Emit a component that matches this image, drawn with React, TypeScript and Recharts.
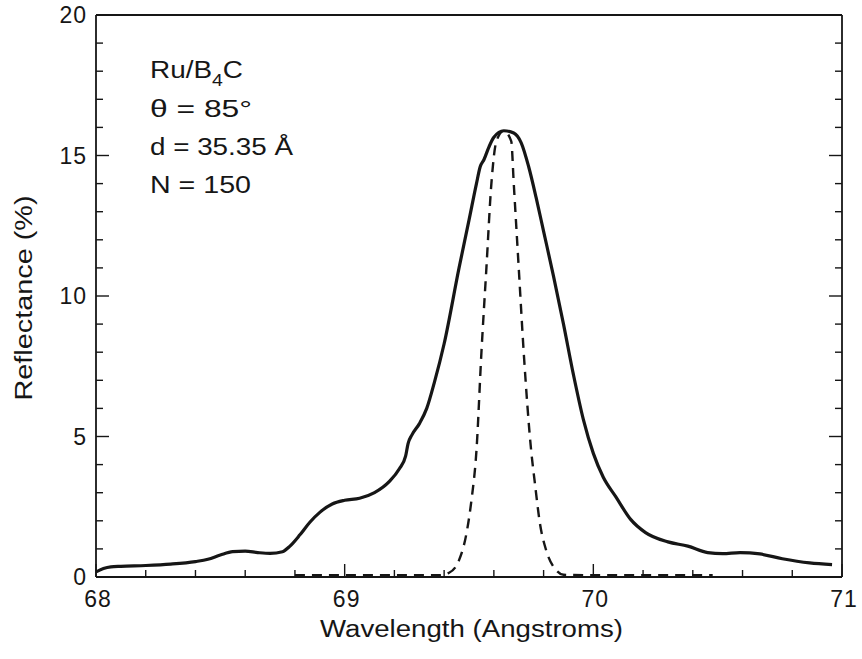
import { LineChart, Line, XAxis, YAxis, Customized } from "recharts"

// Measured reflectance curve (solid)
const measuredWavelength = [
    68.0, 68.03, 68.06, 68.1, 68.2, 68.3, 68.4, 68.45, 68.5, 68.55, 68.6, 68.65, 68.7, 68.75,
    68.78, 68.82, 68.86, 68.9, 68.95, 69.0, 69.06, 69.12, 69.18, 69.22, 69.245, 69.255, 69.27,
    69.3, 69.33, 69.36, 69.4, 69.46, 69.5, 69.53, 69.545, 69.56, 69.58, 69.6, 69.64, 69.68,
    69.71, 69.74, 69.77, 69.8, 69.84, 69.88, 69.92, 69.96, 70.0, 70.04, 70.09, 70.15,
    70.21, 70.3, 70.38, 70.46, 70.52, 70.59, 70.67, 70.76, 70.87, 70.96,
]
const measuredReflectance = [
    0.18, 0.3, 0.36, 0.38, 0.41, 0.46, 0.55, 0.63, 0.78, 0.9, 0.92, 0.87, 0.84, 0.9,
    1.1, 1.5, 1.95, 2.3, 2.6, 2.73, 2.8, 3.0, 3.4, 3.85, 4.3, 4.75, 5.05,
    5.45, 6.0, 6.9, 8.3, 11.0, 12.7, 14.0, 14.6, 14.85, 15.3, 15.65, 15.88, 15.8,
    15.45, 14.6, 13.5, 12.3, 10.7, 9.0, 7.2, 5.6, 4.4, 3.55, 2.86, 2.05,
    1.58, 1.25, 1.1, 0.87, 0.83, 0.87, 0.82, 0.65, 0.5, 0.44,
]

// Calculated curve (dashed)
const calcWavelength = [
    68.8, 69.0, 69.2, 69.38, 69.42, 69.46, 69.49, 69.51, 69.53, 69.55, 69.57, 69.59, 69.61,
    69.64, 69.67, 69.68, 69.7, 69.72, 69.75, 69.765, 69.785, 69.81, 69.85, 69.88, 70.0, 70.2, 70.48,
]
const calcReflectance = [
    0.06, 0.06, 0.06, 0.06, 0.15, 0.6, 1.56, 2.74, 4.5, 8.0, 11.0, 14.0, 15.5,
    15.88, 15.5, 14.0, 11.0, 8.0, 4.5, 3.34, 1.92, 0.96, 0.25, 0.08, 0.06, 0.06, 0.06,
]

const xTicks = [68, 68.2, 68.4, 68.6, 68.8, 69, 69.2, 69.4, 69.6, 69.8, 70, 70.2, 70.4, 70.6, 70.8, 71]
const yTicks = [0, 1, 2, 3, 4, 5, 6, 7, 8, 9, 10, 11, 12, 13, 14, 15, 16, 17, 18, 19, 20]

const measuredData = measuredWavelength.map((w, i) => ({ w, r: measuredReflectance[i] }))
const calcData = calcWavelength.map((w, i) => ({ w, r: calcReflectance[i] }))

const FG = "#161616"
const FONT = "'Liberation Sans', Arial, Helvetica, sans-serif"
const MAJOR = 13
const MINOR = 7

const isMajorX = (v: number) => Math.abs(v - Math.round(v)) < 1e-6
const isMajorY = (v: number) => Math.abs(v % 5) < 1e-6

const XTickBottom = ({ x, y, payload }: any) => {
    const major = isMajorX(payload.value)
    return (
        <g>
            <line x1={x} x2={x} y1={y} y2={y - (major ? MAJOR : MINOR)} stroke={FG} strokeWidth={1.4} />
            {major && (
                <text x={x + 2} y={y + 30} textAnchor="middle" fontSize={23} fontFamily={FONT} fill={FG} letterSpacing={1}>
                    {payload.value}
                </text>
            )}
        </g>
    )
}

const XTickTop = ({ x, y, payload }: any) => {
    const major = isMajorX(payload.value)
    return <line x1={x} x2={x} y1={y} y2={y + (major ? MAJOR : MINOR)} stroke={FG} strokeWidth={1.4} />
}

const YTickLeft = ({ x, y, payload }: any) => {
    const major = isMajorY(payload.value)
    return (
        <g>
            <line x1={x} x2={x + (major ? MAJOR : MINOR)} y1={y} y2={y} stroke={FG} strokeWidth={1.4} />
            {major && (
                <text x={x - 9} y={y + 8} textAnchor="end" fontSize={23} fontFamily={FONT} fill={FG} letterSpacing={1}>
                    {payload.value}
                </text>
            )}
        </g>
    )
}

const YTickRight = ({ x, y, payload }: any) => {
    const major = isMajorY(payload.value)
    return <line x1={x} x2={x - (major ? MAJOR : MINOR)} y1={y} y2={y} stroke={FG} strokeWidth={1.4} />
}

const Annotations = () => (
    <g fontFamily={FONT} fill={FG}>
        <text x={150} y={78} fontSize={23} textLength={93} lengthAdjust="spacingAndGlyphs">
            Ru/B<tspan fontSize={16} dy={8}>4</tspan><tspan dy={-8}>C</tspan>
        </text>
        <text x={150} y={117} fontSize={23} textLength={102} lengthAdjust="spacingAndGlyphs">
            θ = 85°
        </text>
        <text x={150} y={155} fontSize={23} textLength={143} lengthAdjust="spacingAndGlyphs">
            d = 35.35 Å
        </text>
        <text x={150} y={193} fontSize={23} textLength={101} lengthAdjust="spacingAndGlyphs">
            N = 150
        </text>
        <text x={320} y={637} fontSize={23} textLength={303} lengthAdjust="spacingAndGlyphs">
            Wavelength (Angstroms)
        </text>
        <text
            x={0}
            y={0}
            fontSize={23}
            textAnchor="middle"
            textLength={205}
            lengthAdjust="spacingAndGlyphs"
            transform="translate(32, 298) rotate(-90)"
        >
            Reflectance (%)
        </text>
    </g>
)

export default function App() {
    const axisLine = { stroke: FG, strokeWidth: 1.8 }
    return (
        <div style={{ position: "absolute", left: 0, top: 0, background: "#fff" }}>
            <LineChart width={862} height={659} margin={{ top: 14, right: 19, bottom: 0, left: 0 }}>
                <XAxis
                    dataKey="w"
                    type="number"
                    domain={[68, 71]}
                    ticks={xTicks}
                    interval={0}
                    height={82}
                    tickSize={0}
                    tickMargin={0}
                    tickLine={false}
                    axisLine={axisLine}
                    tick={XTickBottom}
                    allowDataOverflow
                />
                <XAxis
                    xAxisId="top"
                    orientation="top"
                    type="number"
                    domain={[68, 71]}
                    ticks={xTicks}
                    interval={0}
                    height={1}
                    tickSize={0}
                    tickMargin={0}
                    tickLine={false}
                    axisLine={axisLine}
                    tick={XTickTop}
                    allowDataOverflow
                />
                <YAxis
                    type="number"
                    domain={[0, 20]}
                    ticks={yTicks}
                    interval={0}
                    width={96}
                    tickSize={0}
                    tickMargin={0}
                    tickLine={false}
                    axisLine={axisLine}
                    tick={YTickLeft}
                    allowDataOverflow
                />
                <YAxis
                    yAxisId="right"
                    orientation="right"
                    type="number"
                    domain={[0, 20]}
                    ticks={yTicks}
                    interval={0}
                    width={1}
                    tickSize={0}
                    tickMargin={0}
                    tickLine={false}
                    axisLine={axisLine}
                    tick={YTickRight}
                    allowDataOverflow
                />
                <Line
                    data={calcData}
                    dataKey="r"
                    type="monotone"
                    stroke={FG}
                    strokeWidth={2.4}
                    strokeDasharray="10 7"
                    dot={false}
                    activeDot={false}
                    isAnimationActive={false}
                />
                <Line
                    data={measuredData}
                    dataKey="r"
                    type="monotone"
                    stroke={FG}
                    strokeWidth={3.2}
                    dot={false}
                    activeDot={false}
                    isAnimationActive={false}
                />
                <Customized component={Annotations} />
            </LineChart>
        </div>
    )
}
